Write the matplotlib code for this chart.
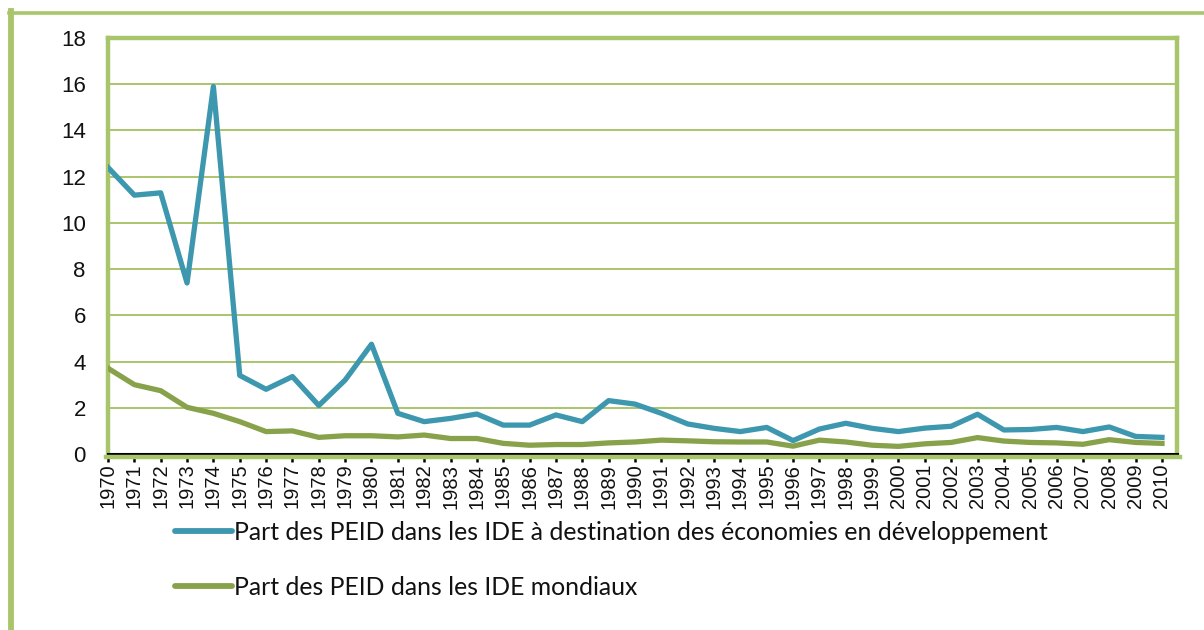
import matplotlib
matplotlib.use('Agg')
import matplotlib.pyplot as plt
from matplotlib.lines import Line2D
import numpy as np

# Colours
COLORS = {
    'teal': '#3D97AE',
    'olive': '#88A24B',
    'frame_green': '#A9C56B',
    'grid_green': '#A9C56B',
    'text': '#111111',
}

years = list(range(1970, 2011))

# Part des PEID dans les IDE à destination des économies en développement (%)
share_developing = [
    12.4, 11.2, 11.3, 7.4, 15.9, 3.4, 2.8, 3.35, 2.1, 3.2,
    4.75, 1.76, 1.4, 1.54, 1.73, 1.25, 1.25, 1.69, 1.4, 2.31,
    2.16, 1.76, 1.3, 1.11, 0.97, 1.15, 0.58, 1.08, 1.33, 1.11,
    0.97, 1.12, 1.2, 1.72, 1.04, 1.06, 1.15, 0.97, 1.17, 0.76, 0.72,
]

# Part des PEID dans les IDE mondiaux (%)
share_world = [
    3.71, 3.0, 2.74, 2.02, 1.76, 1.4, 0.97, 1.0, 0.72, 0.79,
    0.79, 0.74, 0.82, 0.67, 0.67, 0.46, 0.38, 0.41, 0.41, 0.48,
    0.52, 0.6, 0.57, 0.53, 0.52, 0.52, 0.34, 0.6, 0.52, 0.38,
    0.33, 0.44, 0.5, 0.71, 0.56, 0.5, 0.48, 0.42, 0.62, 0.5, 0.46,
]

label_developing = "Part des PEID dans les IDE à destination des économies en développement"
label_world = "Part des PEID dans les IDE mondiaux"

yticks = list(range(0, 19, 2))

W, H = 1204, 630
fig = plt.figure(figsize=(W / 100, H / 100), dpi=100)
fig.patch.set_facecolor('white')

# plot area (pixel box 108..1177 x 38..454)
ax = fig.add_axes([108 / W, 1 - 454 / H, (1177 - 108) / W, (454 - 38) / H])

ax.plot(years, share_developing, color=COLORS['teal'], linewidth=3.8,
        solid_joinstyle='round', label=label_developing, zorder=5)
ax.plot(years, share_world, color=COLORS['olive'], linewidth=3.8,
        solid_joinstyle='round', label=label_world, zorder=4)

ax.set_xlim(1970, 2010.57)
ax.set_ylim(0, 18)
ax.set_yticks(yticks)
ax.set_xticks(years)
ax.set_xticklabels([str(y) for y in years], rotation=90, fontsize=14.5,
                   family='Liberation Sans', color=COLORS['text'])
ax.set_yticklabels([str(v) for v in yticks], fontsize=16,
                   family='Liberation Sans', color=COLORS['text'])

ax.grid(True, axis='y', color=COLORS['grid_green'], linewidth=1.4)
ax.set_axisbelow(True)

ax.tick_params(axis='y', length=0, pad=16)
ax.tick_params(axis='x', length=6, width=1.8, color='black', direction='out', pad=1)

for side in ['top', 'right', 'left']:
    ax.spines[side].set_color(COLORS['frame_green'])
    ax.spines[side].set_linewidth(3.2)
ax.spines['bottom'].set_color('black')
ax.spines['bottom'].set_linewidth(2.2)
ax.spines['bottom'].set_zorder(6)

# green plot-area border just under the black category axis
fig.add_artist(Line2D([106 / W, 1180 / W], [1 - 457 / H, 1 - 457 / H],
                      color=COLORS['frame_green'], linewidth=3.2))

# outer chart frame (left and top edges visible)
fig.add_artist(Line2D([11 / W, 11 / W], [0, 1 - 11 / H],
                      color=COLORS['frame_green'], linewidth=4.2))
fig.add_artist(Line2D([9 / W, 1], [1 - 12.5 / H, 1 - 12.5 / H],
                      color=COLORS['frame_green'], linewidth=2.6))

handles, labels = ax.get_legend_handles_labels()
leg = fig.legend(handles, labels, loc='upper left',
                 bbox_to_anchor=(175 / W, 1 - 521 / H),
                 frameon=False, borderpad=0, borderaxespad=0,
                 handlelength=2.3, handletextpad=0.08, labelspacing=1.3,
                 prop={'family': 'Lato', 'size': 17.8})
for line in leg.get_lines():
    line.set_linewidth(4.2)
    line.set_solid_capstyle('round')
for t in leg.get_texts():
    t.set_color(COLORS['text'])

fig.savefig('out.png', dpi=100, facecolor='white')
